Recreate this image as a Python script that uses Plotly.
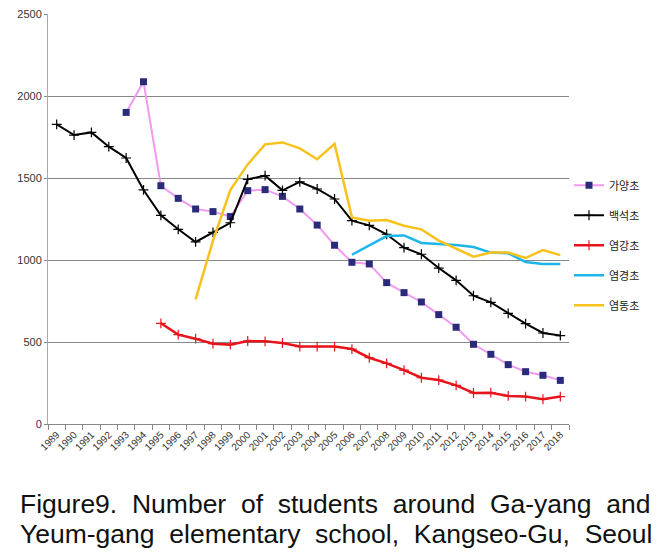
import plotly.graph_objects as go

years = [str(y) for y in range(1989, 2019)]

gayang_years = [str(y) for y in range(1993, 2019)]
gayang = [1900, 2087, 1453, 1376, 1311, 1295, 1265, 1423, 1429, 1388, 1311, 1213, 1090,
          986, 976, 862, 801, 744, 667, 590, 486, 425, 362, 319, 297, 266]

baekseok_years = [str(y) for y in range(1989, 2019)]
baekseok = [1827, 1762, 1778, 1691, 1622, 1427, 1272, 1187, 1110, 1169, 1227, 1492, 1514,
            1425, 1476, 1433, 1372, 1240, 1211, 1157, 1075, 1035, 951, 876, 782, 742, 675,
            612, 555, 539]

yeomgang_years = [str(y) for y in range(1995, 2019)]
yeomgang = [614, 545, 520, 490, 484, 506, 504, 494, 472, 472, 472, 457, 404, 370, 329,
            282, 268, 236, 189, 191, 171, 167, 151, 167]

yeomgyeong_years = [str(y) for y in range(2006, 2019)]
yeomgyeong = [1032, 1088, 1146, 1150, 1104, 1098, 1091, 1079, 1045, 1041, 988, 976, 976]

yeomdong_years = [str(y) for y in range(1997, 2019)]
yeomdong = [760, 1118, 1427, 1583, 1705, 1717, 1681, 1614, 1709, 1260, 1240, 1244, 1209,
            1187, 1118, 1071, 1020, 1045, 1045, 1012, 1061, 1030]

names = ["가양초", "백석초", "염강초", "염경초", "염동초"]

caption_lines = ["Figure9. Number of students around Ga-yang and",
                 "Yeum-gang elementary school, Kangseo-Gu, Seoul"]

fig = go.Figure()
fig.add_trace(go.Scatter(x=gayang_years, y=gayang, name=names[0], mode="lines+markers",
                         line=dict(color="#F09AF0", width=2),
                         marker=dict(symbol="square", size=7, color="#2A2A7A"),
                         legendgroup="a"))
fig.add_trace(go.Scatter(x=baekseok_years, y=baekseok, name=names[1], mode="lines+markers",
                         line=dict(color="#000000", width=2),
                         marker=dict(symbol="cross-thin", size=7, line=dict(width=1.2, color="#000000")),
                         legendgroup="b"))
fig.add_trace(go.Scatter(x=yeomgang_years, y=yeomgang, name=names[2], mode="lines+markers",
                         line=dict(color="#E8141C", width=2.5),
                         marker=dict(symbol="cross-thin", size=7, line=dict(width=1.2, color="#E8141C")),
                         legendgroup="c"))
fig.add_trace(go.Scatter(x=yeomgyeong_years, y=yeomgyeong, name=names[3], mode="lines",
                         line=dict(color="#1CB6EA", width=2.5),
                         legendgroup="d"))
fig.add_trace(go.Scatter(x=yeomdong_years, y=yeomdong, name=names[4], mode="lines",
                         line=dict(color="#F7C21C", width=2.5),
                         legendgroup="e"))

fig.update_layout(
    width=669, height=553,
    margin=dict(l=48, r=100, t=14, b=129, autoexpand=False),
    paper_bgcolor="white", plot_bgcolor="white",
    font=dict(family="Liberation Sans, Arial, sans-serif", size=10, color="#222"),
    legend=dict(x=1.0, xanchor="left", y=0.436, yanchor="middle",
                font=dict(family="Noto Sans CJK KR", size=11, color="#222"),
                tracegroupgap=11, traceorder="grouped", itemwidth=30),
    showlegend=True,
)
fig.update_xaxes(type="category", categoryorder="array", categoryarray=years,
                 range=[-0.5, 29.5], tickangle=-45, tickson="boundaries",
                 ticks="outside", ticklen=5, tickcolor="#888", automargin=False,
                 showline=True, linecolor="#888", linewidth=1,
                 showgrid=False, tickfont=dict(size=10, color="#333"))
fig.update_yaxes(range=[0, 2500], dtick=500, showgrid=True, gridcolor="#888", gridwidth=1,
                 showline=True, linecolor="#aaa", linewidth=1, ticks="outside", ticklen=3,
                 tickcolor="#888", zeroline=False, automargin=False,
                 tickfont=dict(size=11, color="#333"))

cap_y = [-0.195, -0.268]
for line, yy in zip(caption_lines, cap_y):
    fig.add_annotation(text=line.replace(" ", " \u00a0"), xref="paper", yref="paper",
                       x=(18 - 48) / 521, y=yy, xanchor="left", yanchor="middle", showarrow=False,
                       font=dict(family="Liberation Sans, Arial, sans-serif", size=26.5, color="#111"))

fig.write_html("out.html", config={"displayModeBar": False},
               post_script="document.body.style.margin='0';")
